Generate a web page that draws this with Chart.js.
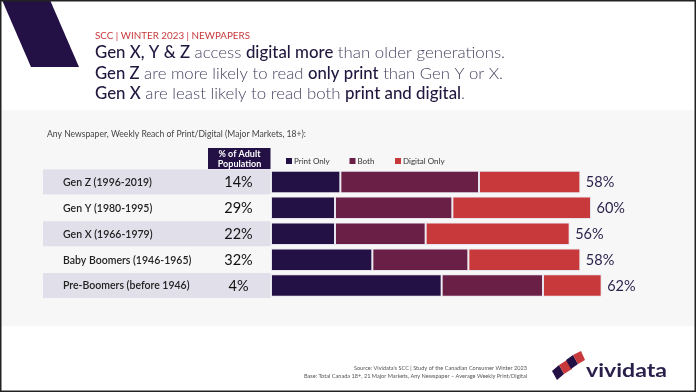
<!DOCTYPE html>
<html>
<head>
<meta charset="utf-8">
<script src="https://cdn.jsdelivr.net/npm/chart.js@4.4.1/dist/chart.umd.min.js"></script>
<style>
  html, body { margin: 0; padding: 0; background: #fff; }
  canvas { display: block; }
</style>
</head>
<body>
<canvas id="chart" width="696" height="392"></canvas>
<script>
// data
const generations = ['Gen Z (1996-2019)', 'Gen Y (1980-1995)', 'Gen X (1966-1979)', 'Baby Boomers (1946-1965)', 'Pre-Boomers (before 1946)'];
const adultPopulation = ['14%', '29%', '22%', '32%', '4%'];
const printOnly = [13, 12, 12, 19, 32];
const both = [26, 22, 17, 18, 19];
const digitalOnly = [19, 26, 27, 21, 11];
const totalReach = [58, 60, 56, 58, 62];

const DARK = '#231044';
const MAROON = '#6a1f46';
const RED = '#c8393b';
const FONT = 'Lato, "Open Sans", sans-serif';

const headlines = [
    [['Gen X, Y & Z', 1], [' access ', 0], ['digital more', 1], [' than older generations.', 0]],
    [['Gen Z', 1], [' are more likely to read ', 0], ['only print', 1], [' than Gen Y or X.', 0]],
    [['Gen X', 1], [' are least likely to read both ', 0], ['print and digital', 1], ['.', 0]]
];
const headlineWidths = [410, 408, 370];

// draws text squeezed/stretched to a target width
function fitText(ctx, text, x, y, w) {
    const m = ctx.measureText(text).width;
    ctx.save();
    ctx.translate(x, y);
    ctx.scale(w / m, 1);
    ctx.fillText(text, 0, 0);
    ctx.restore();
}

function drawRich(ctx, parts, x, y, size, target) {
    let total = 0;
    parts.forEach(p => {
        ctx.font = (p[1] ? '500 ' : '300 ') + size + 'px ' + FONT;
        total += ctx.measureText(p[0]).width;
    });
    const k = target / total;
    ctx.save();
    ctx.translate(x, y);
    ctx.scale(k, 1);
    let cx = 0;
    parts.forEach(p => {
        ctx.font = (p[1] ? '500 ' : '300 ') + size + 'px ' + FONT;
        ctx.fillStyle = p[1] ? '#22173f' : '#4a4462';
        ctx.fillText(p[0], cx, 0);
        cx += ctx.measureText(p[0]).width;
    });
    ctx.restore();
}

const slidePlugin = {
    id: 'slide',
    beforeDraw(chart) {
        const ctx = chart.ctx;
        const y = chart.scales.y;
        ctx.save();
        ctx.fillStyle = '#fff';
        ctx.fillRect(0, 0, 696, 392);

        // corner band
        ctx.fillStyle = DARK;
        ctx.beginPath();
        ctx.moveTo(2, 0); ctx.lineTo(50, 0); ctx.lineTo(79, 67); ctx.lineTo(31, 67);
        ctx.closePath();
        ctx.fill();

        // titles
        ctx.textBaseline = 'middle';
        ctx.textAlign = 'left';
        ctx.fillStyle = RED;
        ctx.font = '10px ' + FONT;
        fitText(ctx, 'SCC | WINTER 2023 | NEWPAPERS', 95, 36, 155);
        headlines.forEach((line, i) => drawRich(ctx, line, 95, 53 + i * 20.5, 16.5, headlineWidths[i]));

        // grey panel
        ctx.fillStyle = '#f7f7f7';
        ctx.fillRect(0, 110, 696, 216);

        ctx.fillStyle = '#444';
        ctx.font = '8.5px ' + FONT;
        fitText(ctx, 'Any Newspaper, Weekly Reach of Print/Digital (Major Markets, 18+):', 47, 134, 259);

        // header box
        ctx.fillStyle = DARK;
        ctx.fillRect(208, 148, 62.5, 21);
        ctx.fillStyle = '#fff';
        ctx.font = 'bold 9px ' + FONT;
        ctx.textAlign = 'center';
        ctx.fillText('% of Adult', 239.5, 154);
        ctx.fillText('Population', 239.5, 164);

        // legend
        ctx.textAlign = 'left';
        ctx.font = '8px ' + FONT;
        const legendX = [286, 349.5, 395];
        chart.data.datasets.forEach((ds, i) => {
            ctx.fillStyle = ds.backgroundColor;
            ctx.fillRect(legendX[i], 158, 6, 6);
            ctx.fillStyle = '#333';
            ctx.fillText(ds.label, legendX[i] + 8, 161.5);
        });

        // row bands + labels
        generations.forEach((g, i) => {
            const cy = y.getPixelForValue(i);
            if (i % 2 === 0) {
                ctx.fillStyle = '#e1dfea';
                ctx.fillRect(43, cy - 12.5, 227.5, 25);
            }
            ctx.fillStyle = '#222';
            ctx.textAlign = 'left';
            ctx.font = '600 10.5px ' + FONT;
            ctx.fillText(g, 63, cy + 0.5);
            ctx.textAlign = 'center';
            ctx.font = '14.5px ' + FONT;
            ctx.fillStyle = '#111';
            ctx.fillText(adultPopulation[i], 238.5, cy + 0.5);
        });

        // footer
        ctx.textAlign = 'right';
        ctx.fillStyle = '#555';
        ctx.font = '5.6px ' + FONT;
        ctx.fillText("Source: Vividata's SCC | Study of the Canadian Consumer Winter 2023", 527, 368);
        ctx.fillText('Base: Total Canada 18+, 21 Major Markets, Any Newspaper \u2013 Average Weekly Print/Digital', 527, 376);

        // logo mark
        const quads = [
            [[552, 371], [559, 365], [564, 374], [557, 380], DARK],
            [[559, 365], [567, 360], [572, 369], [564, 374], RED],
            [[566, 360], [573, 355], [578, 364], [571, 369], DARK],
            [[573, 355], [581, 351], [585, 360], [578, 364], RED]
        ];
        quads.forEach(q => {
            ctx.fillStyle = q[4];
            ctx.beginPath();
            ctx.moveTo(q[0][0], q[0][1]);
            for (let k = 1; k < 4; k++) ctx.lineTo(q[k][0], q[k][1]);
            ctx.closePath();
            ctx.fill();
        });
        ctx.textAlign = 'left';
        ctx.textBaseline = 'alphabetic';
        ctx.fillStyle = '#2a1f4a';
        ctx.font = 'bold 19px ' + FONT;
        fitText(ctx, 'vividata', 586, 377, 81);
        ctx.restore();
    },
    afterDatasetsDraw(chart) {
        const ctx = chart.ctx;
        const x = chart.scales.x, y = chart.scales.y;
        ctx.save();
        ctx.font = '14.5px ' + FONT;
        ctx.fillStyle = '#2a1f4a';
        ctx.textBaseline = 'middle';
        ctx.textAlign = 'left';
        totalReach.forEach((t, i) => {
            ctx.fillText(t + '%', x.getPixelForValue(t) + 5.5, y.getPixelForValue(i) + 0.5);
        });
        ctx.restore();
    },
    afterDraw(chart) {
        const ctx = chart.ctx;
        ctx.save();
        ctx.strokeStyle = '#222';
        ctx.lineWidth = 1.5;
        ctx.strokeRect(0.75, 0.75, 694.5, 390.5);
        ctx.restore();
    }
};

const barStyle = {
    borderWidth: 1,
    borderColor: '#e6e3ee',
    borderSkipped: false,
    barPercentage: 0.87,
    categoryPercentage: 1
};

new Chart(document.getElementById('chart'), {
    type: 'bar',
    data: {
        labels: generations,
        datasets: [
            Object.assign({ label: 'Print Only', data: printOnly, backgroundColor: DARK }, barStyle),
            Object.assign({ label: 'Both', data: both, backgroundColor: MAROON }, barStyle),
            Object.assign({ label: 'Digital Only', data: digitalOnly, backgroundColor: RED }, barStyle)
        ]
    },
    options: {
        indexAxis: 'y',
        responsive: false,
        animation: false,
        devicePixelRatio: 1,
        layout: { padding: { left: 271, right: 25, top: 169, bottom: 93.5 } },
        plugins: { legend: { display: false }, tooltip: { enabled: false } },
        scales: {
            x: { stacked: true, min: 0, max: 75, display: false },
            y: { stacked: true, display: false }
        }
    },
    plugins: [slidePlugin]
});
</script>
</body>
</html>
